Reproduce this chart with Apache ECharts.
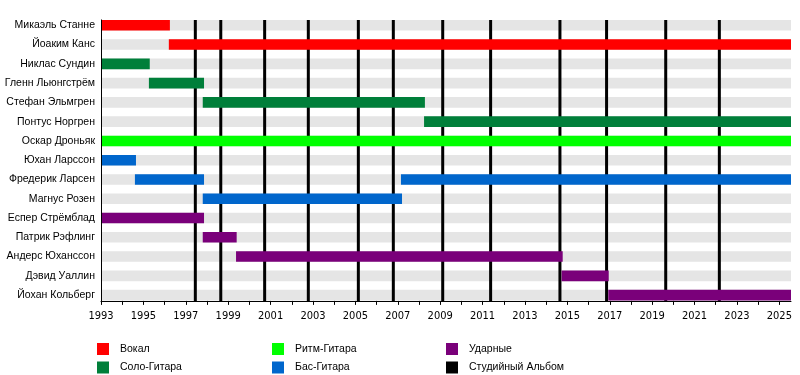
<!DOCTYPE html>
<html>
<head>
<meta charset="utf-8">
<script src="https://cdn.jsdelivr.net/npm/echarts@6/dist/echarts.min.js"></script>
<style>
  html, body { margin: 0; padding: 0; background: #fff; }
  #main { width: 800px; height: 375px; }
</style>
</head>
<body>
<div id="main"></div>
<script>
const NOW = 2025.55

const members = [
  'Микаэль Станне', 'Йоаким Канс', 'Никлас Сундин', 'Гленн Льюнгстрём',
  'Стефан Эльмгрен', 'Понтус Норгрен', 'Оскар Дроньяк', 'Юхан Ларссон',
  'Фредерик Ларсен', 'Магнус Розен', 'Еспер Стрёмблад', 'Патрик Рэфлинг',
  'Андерс Юханссон', 'Дэвид Уаллин', 'Йохан Кольберг'
]

// [строка, начало, конец]
const vocals = [[0, 1993, 1996.25], [1, 1996.2, NOW]]
const leadGuitar = [[2, 1993, 1995.3], [3, 1995.26, 1997.86], [4, 1997.8, 2008.28], [5, 2008.24, NOW]]
const rhythmGuitar = [[6, 1993, NOW]]
const bass = [[7, 1993, 1994.65], [8, 1994.6, 1997.86], [8, 2007.15, NOW], [9, 1997.8, 2007.2]]
const drums = [[10, 1993, 1997.86], [11, 1997.8, 1999.4], [12, 1999.37, 2014.78], [13, 2014.73, 2016.95], [14, 2016.93, NOW]]
const albums = [1997.45, 1998.65, 2000.72, 2002.78, 2005.14, 2006.79, 2009.12, 2011.38, 2014.65, 2016.85, 2019.64, 2022.17]

const tickYears = []
const labelYears = []
for (let y = 1993; y <= 2025; y++) {
  tickYears.push(y)
  if (y % 2 === 1) labelYears.push(y)
}

const myChart = echarts.init(document.getElementById('main'), null, { renderer: 'canvas' })

const font = 'Liberation Sans, Arial, sans-serif'

function barItem (params, api) {
  const start = api.coord([api.value(1), api.value(0)])
  const end = api.coord([api.value(2), api.value(0)])
  const h = api.size([0, 1])[1] * 0.55
  return {
    type: 'rect',
    shape: { x: start[0], y: start[1] - h / 2, width: end[0] - start[0], height: h },
    style: { fill: api.visual('color') }
  }
}

function roleSeries (name, color, data) {
  return {
    name: name,
    type: 'custom',
    renderItem: barItem,
    itemStyle: { color: color },
    encode: { x: [1, 2], y: 0 },
    data: data,
    z: 5,
    silent: true
  }
}

const bands = members.map((m, i) => [i, 1993, NOW])

const option = {
  backgroundColor: '#fff',
  animation: false,
  textStyle: { fontFamily: font },
  grid: { left: 101, right: 9, top: 19.9, height: 281, outerBoundsMode: 'none' },
  xAxis: {
    type: 'value',
    min: 1993,
    max: NOW,
    z: 6,
    axisLine: { show: true, onZero: false, lineStyle: { color: '#000', width: 1 } },
    axisTick: { show: true, customValues: tickYears, length: 4, lineStyle: { color: '#000' } },
    axisLabel: {
      customValues: labelYears,
      formatter: v => String(v),
      color: '#000',
      fontSize: 11,
      fontFamily: 'Liberation Sans Narrow, DejaVu Sans Condensed, sans-serif',
      margin: 10
    },
    splitLine: { show: false }
  },
  yAxis: {
    type: 'value',
    inverse: true,
    min: -0.28,
    max: 14.3,
    z: 6,
    axisLine: { show: true, onZero: false, lineStyle: { color: '#000', width: 1 } },
    axisTick: { show: false },
    axisLabel: {
      customValues: members.map((m, i) => i),
      formatter: v => members[v] || '',
      color: '#000',
      fontSize: 10.5,
      margin: 6
    },
    splitLine: { show: false }
  },
  legend: [
    { data: ['Вокал', 'Соло-Гитара'], left: 97, top: 343 },
    { data: ['Ритм-Гитара', 'Бас-Гитара'], left: 272, top: 343 },
    { data: ['Ударные', 'Студийный Альбом'], left: 446, top: 343 }
  ].map(l => Object.assign({
    orient: 'vertical',
    icon: 'rect',
    itemWidth: 12,
    itemHeight: 12,
    itemGap: 6.5,
    padding: 0,
    selectedMode: false,
    textStyle: { color: '#000', fontSize: 10.5, padding: [0, 0, 0, 6] }
  }, l)),
  series: [
    {
      name: 'bands',
      type: 'custom',
      renderItem: barItem,
      itemStyle: { color: '#e5e5e5' },
      encode: { x: [1, 2], y: 0 },
      data: bands,
      z: 1,
      silent: true
    },
    {
      name: 'Студийный Альбом',
      type: 'custom',
      itemStyle: { color: '#000' },
      renderItem: function (params, api) {
        const top = api.coord([api.value(0), -0.28])
        const bottom = api.coord([api.value(0), 14.3])
        return {
          type: 'line',
          shape: { x1: top[0], y1: top[1], x2: bottom[0], y2: bottom[1] },
          style: { stroke: '#000', lineWidth: 3 }
        }
      },
      encode: { x: 0 },
      data: albums.map(a => [a]),
      z: 3,
      silent: true
    },
    roleSeries('Вокал', '#ff0000', vocals),
    roleSeries('Соло-Гитара', '#007f3a', leadGuitar),
    roleSeries('Ритм-Гитара', '#00ff00', rhythmGuitar),
    roleSeries('Бас-Гитара', '#0066cc', bass),
    roleSeries('Ударные', '#7a007a', drums)
  ]
}

myChart.setOption(option)
window.addEventListener('resize', function () {
  myChart.resize()
})
</script>
</body>
</html>
